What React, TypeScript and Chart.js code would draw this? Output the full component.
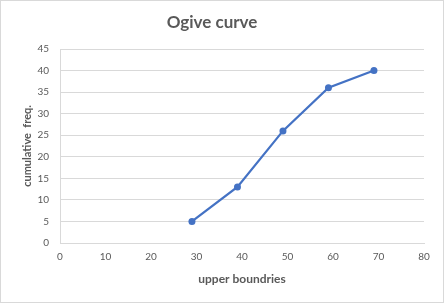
import React, { useEffect, useRef } from "react";
import { Chart, registerables } from "chart.js";

Chart.register(...registerables);

const chartTitle = "Ogive curve";
const xAxisTitle = "upper boundries";
const yAxisTitle = "cumulative  freq.";
const upperBoundaries = [29, 39, 49, 59, 69];
const cumulativeFreq = [5, 13, 26, 36, 40];

const FONT = "Lato, 'Open Sans', sans-serif";
const TEXT = "#595959";
const GRID = "#d9d9d9";
const BLUE = "#4472C4";

export default function App() {
  const ref = useRef<HTMLCanvasElement | null>(null);

  useEffect(() => {
    if (!ref.current) return;
    const points = upperBoundaries.map((x, i) => ({ x, y: cumulativeFreq[i] }));
    const chart = new Chart(ref.current, {
      type: "line",
      data: {
        datasets: [
          {
            data: points,
            borderColor: BLUE,
            backgroundColor: BLUE,
            borderWidth: 2.25,
            pointRadius: 3.5,
            pointHoverRadius: 3.5,
            pointBorderWidth: 0,
            tension: 0,
          },
        ],
      },
      options: {
        animation: false,
        responsive: false,
        maintainAspectRatio: false,
        layout: { padding: { left: 0, right: 20, top: 0, bottom: 0 } },
        plugins: {
          legend: { display: false },
          tooltip: { enabled: false },
          title: {
            display: true,
            text: chartTitle,
            color: TEXT,
            font: { family: FONT, size: 17, weight: "bold", lineHeight: 1.2 },
            padding: { top: 12.5, bottom: 16.1 },
          },
        },
        scales: {
          x: {
            type: "linear",
            min: 0,
            max: 80,
            afterFit: (s: any) => {
              s.height = 60;
            },
            ticks: {
              stepSize: 10,
              color: TEXT,
              font: { family: FONT, size: 10 },
              padding: 8,
              maxRotation: 0,
            },
            grid: { color: "rgba(0,0,0,0)", drawTicks: false },
            border: { display: true, color: GRID, width: 1 },
            title: {
              display: true,
              text: xAxisTitle,
              color: TEXT,
              font: { family: FONT, size: 12, weight: "bold", lineHeight: 1.2 },
              padding: { top: 0, bottom: 16.8 },
            },
          },
          y: {
            type: "linear",
            min: 0,
            max: 45,
            afterFit: (s: any) => {
              s.width = 60;
            },
            ticks: {
              stepSize: 5,
              color: TEXT,
              font: { family: FONT, size: 10 },
              padding: 11,
            },
            grid: { color: GRID, drawTicks: false, lineWidth: 1 },
            border: { display: true, color: GRID, width: 1 },
            title: {
              display: true,
              text: yAxisTitle,
              color: TEXT,
              font: { family: FONT, size: 11, weight: "bold", lineHeight: 1.2 },
              padding: { top: 20.4, bottom: 0 },
            },
          },
        },
      },
    });
    return () => chart.destroy();
  }, []);

  return (
    <div
      style={{
        position: "absolute",
        left: 0,
        top: 0,
        width: 444,
        height: 303,
        background: "#fff",
      }}
    >
      <canvas ref={ref} width={444} height={303} style={{ display: "block" }} />
      <div
        style={{
          position: "absolute",
          left: 0,
          top: 0,
          width: 444,
          height: 303,
          boxSizing: "border-box",
          border: "1px solid #d9d9d9",
          pointerEvents: "none",
        }}
      />
    </div>
  );
}
